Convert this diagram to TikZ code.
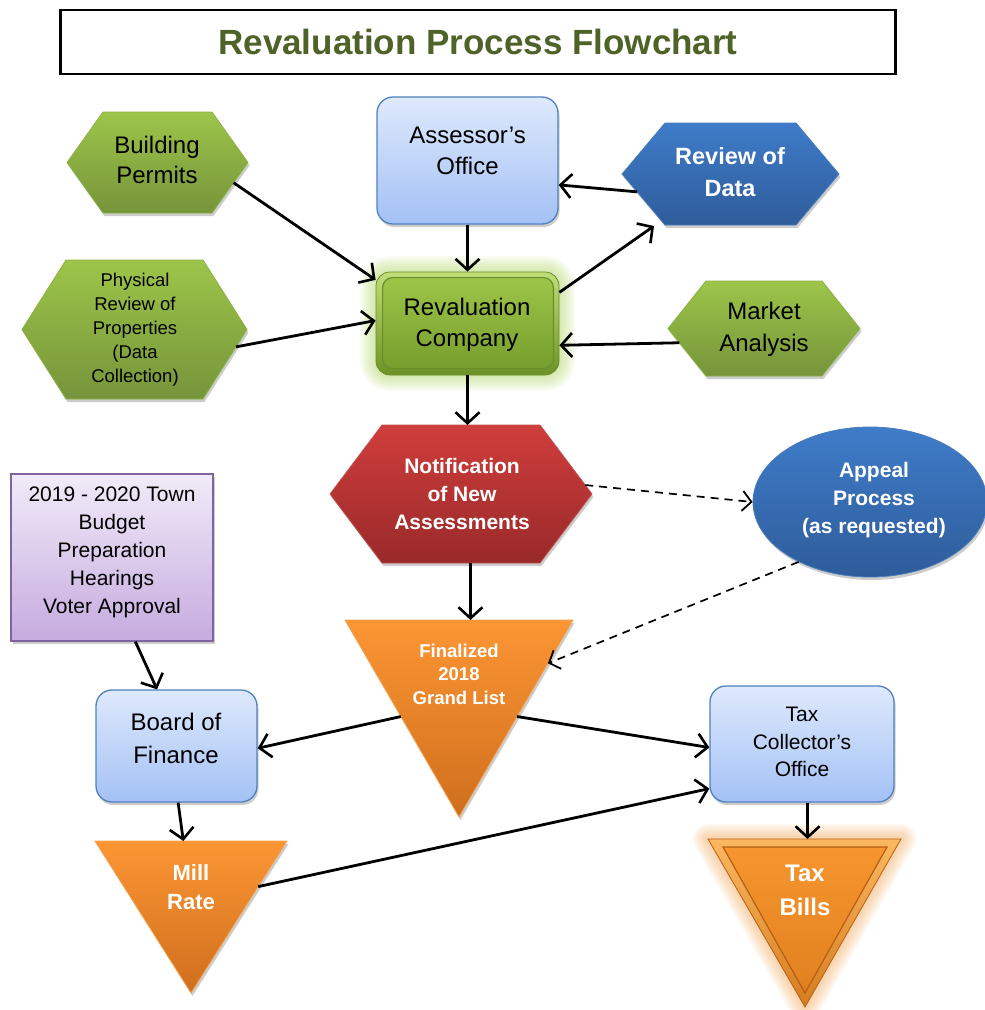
\documentclass[tikz,border=0pt]{standalone}
\usepackage{fontspec}
\setmainfont{Liberation Sans}
\usetikzlibrary{arrows.meta,calc,shadows,shapes.geometric}

\definecolor{titlegreen}{HTML}{4F6228}
\definecolor{hexgT}{HTML}{9DC54A}
\definecolor{hexgB}{HTML}{76943A}
\definecolor{hexgE}{HTML}{8CB143}
\definecolor{blueT}{HTML}{DEE9FC}
\definecolor{blueB}{HTML}{A3C1F5}
\definecolor{blueE}{HTML}{4F81BD}
\definecolor{dblueT}{HTML}{3F7CC9}
\definecolor{dblueB}{HTML}{2E5C9A}
\definecolor{dblueE}{HTML}{4A7EBB}
\definecolor{redT}{HTML}{CF3E3C}
\definecolor{redB}{HTML}{99292A}
\definecolor{redE}{HTML}{C0504D}
\definecolor{orT}{HTML}{FC9634}
\definecolor{orB}{HTML}{CF6E1D}
\definecolor{orE}{HTML}{F7A24F}
\definecolor{purT}{HTML}{F1EBF8}
\definecolor{purB}{HTML}{C6ABDF}
\definecolor{purE}{HTML}{8064A2}
\definecolor{glowgreen}{HTML}{A5CE50}
\definecolor{gloworange}{HTML}{F0A04A}
\definecolor{rcOutT}{HTML}{C0DE78}
\definecolor{rcOutB}{HTML}{6C9226}
\definecolor{rcInT}{HTML}{9DC548}
\definecolor{rcInB}{HTML}{779E2D}
\definecolor{rcEdge}{HTML}{6A8E2A}
\definecolor{tbOutT}{HTML}{FBB861}
\definecolor{tbOutB}{HTML}{D57C1E}
\definecolor{tbInT}{HTML}{F7962F}
\definecolor{tbInB}{HTML}{E0801F}
\definecolor{tbEdge}{HTML}{B65E14}

\newcommand{\hexshape}[7]{%
  \coordinate (#1-l) at (#3,{(#5+#6)/2});
  \coordinate (#1-tl) at ({#3+#7},#5);
  \coordinate (#1-tr) at ({#4-#7},#5);
  \coordinate (#1-r) at (#4,{(#5+#6)/2});
  \coordinate (#1-br) at ({#4-#7},#6);
  \coordinate (#1-bl) at ({#3+#7},#6);
  \path[#2] (#1-l) -- (#1-tl) -- (#1-tr) -- (#1-r) -- (#1-br) -- (#1-bl) -- cycle;
}
\newcommand{\trishape}[6]{%
  \coordinate (#1-tl) at (#3,#5);
  \coordinate (#1-tr) at (#4,#5);
  \coordinate (#1-b) at ({(#3+#4)/2},#6);
  \path[#2] (#1-tl) -- (#1-tr) -- (#1-b) -- cycle;
}

\tikzset{
  arr/.style={line width=2.8pt, -{Straight Barb[length=11pt,width=24pt,line width=2.6pt]}},
  darr/.style={line width=1.7pt, dash pattern=on 8pt off 6pt, -{Straight Barb[length=9pt,width=20pt,line width=1.8pt]}},
  shad/.style={drop shadow={shadow xshift=1.5pt,shadow yshift=-3pt,opacity=0.2,fill=black}},
  greenhex/.style={top color=hexgT, bottom color=hexgB, draw=hexgE, line width=0.8pt, shad},
  bluehex/.style={top color=dblueT, bottom color=dblueB, draw=dblueE, line width=0.8pt, shad},
  redhex/.style={top color=redT, bottom color=redB, draw=redE, line width=0.8pt, shad},
  orangetri/.style={top color=orT, bottom color=orB, draw=orE, line width=0.8pt, shad},
  bluebox/.style={rectangle, rounded corners=16pt, top color=blueT, bottom color=blueB, draw=blueE, line width=1.3pt, shad},
  purplebox/.style={rectangle, top color=purT, bottom color=purB, draw=purE, line width=1.3pt, shad},
  tx/.style={align=center, inner sep=0pt, text=black},
  wtx/.style={align=center, inner sep=0pt, text=white, font=\bfseries},
}

\begin{document}
\begin{tikzpicture}[x=1pt,y=-1pt]
\useasboundingbox (0,0) rectangle (985,1010);

% Title
\node[draw, line width=2.6pt, minimum width=835pt, minimum height=64pt, inner sep=0pt] (title) at (478,42)
  {\fontsize{35}{40}\selectfont\bfseries\color{titlegreen}Revaluation Process Flowchart};

% Hexagons
\hexshape{bp}{greenhex}{67}{248}{112}{213}{36}
\hexshape{pr}{greenhex}{22}{247}{260}{399}{44}
\hexshape{rd}{bluehex}{622}{839}{123}{225}{43}
\hexshape{ma}{greenhex}{668}{860}{281}{376}{38}
\hexshape{nt}{redhex}{330}{592}{425}{563}{52}

% Boxes
\node[bluebox, minimum width=181pt, minimum height=127pt] (ao) at (467.5,160.5) {};
\node[bluebox, minimum width=161pt, minimum height=112pt] (bf) at (176.5,746) {};
\node[bluebox, minimum width=184pt, minimum height=116pt] (tc) at (802,744) {};
\node[purplebox, minimum width=202pt, minimum height=167pt] (bu) at (112,557.5) {};

% Revaluation company with glow
\coordinate (rcNW) at (376,272);
\coordinate (rcSE) at (559,375);
\foreach \w in {32,28,24,20,16,12,8,4}
  \draw[line width=\w pt, glowgreen, opacity=0.07, rounded corners=14pt] (rcNW) rectangle (rcSE);
\node[rectangle, rounded corners=14pt, minimum width=183pt, minimum height=103pt,
      top color=rcOutT, bottom color=rcOutB, draw=rcEdge, line width=0.8pt] (rc) at (467.5,323.5) {};
\path[rounded corners=10pt, top color=rcInT, bottom color=rcInB, draw=rcEdge, line width=1.2pt]
  ($(rc.north west)+(7,6)$) rectangle ($(rc.south east)+(-6,-7)$);

% Appeal ellipse
\node[ellipse, minimum width=234pt, minimum height=150pt, top color=dblueT, bottom color=dblueB,
      draw=dblueE, line width=0.8pt, shad] (ap) at (870,502) {};

% Triangles
\trishape{fg}{orangetri}{345}{573}{620}{817}
\trishape{mr}{orangetri}{95}{287}{841}{993}

% Tax bills with glow and bevel
\coordinate (tb-tl) at (708,839);
\coordinate (tb-tr) at (901,839);
\coordinate (tb-b) at (805,1007);
\foreach \w in {30,26,22,18,14,10,6}
  \draw[line width=\w pt, gloworange, opacity=0.08, line join=round] (tb-tl) -- (tb-tr) -- (tb-b) -- cycle;
\path[top color=tbOutT, bottom color=tbOutB, draw=tbEdge, line width=0.8pt, line join=miter]
  (tb-tl) -- (tb-tr) -- (tb-b) -- cycle;
\path[top color=tbInT, bottom color=tbInB, draw=tbEdge, line width=1.2pt]
  ($(tb-tl)+(15,8)$) -- ($(tb-tr)+(-14,8)$) -- ($(tb-b)+(0,-14)$) -- cycle;

% Texts
\node[tx, font=\fontsize{24}{30}\selectfont] (bpT) at (157,160) {Building\\Permits};
\node[tx, font=\fontsize{18.5}{24}\selectfont] (prT) at (135,330) {Physical\\Review of\\Properties\\(Data\\Collection)};
\node[tx, font=\fontsize{24}{31}\selectfont] (aoT) at (467.5,151) {Assessor’s\\Office};
\node[wtx, font=\fontsize{23.5}{32}\selectfont\bfseries] (rdT) at (730,172) {Review of\\Data};
\node[tx, font=\fontsize{24}{31}\selectfont] (rcT) at (467,325) {Revaluation\\Company};
\node[tx, font=\fontsize{24}{32}\selectfont] (maT) at (764,329) {Market\\Analysis};
\node[wtx, font=\fontsize{21}{28}\selectfont\bfseries] (ntT) at (462,494) {Notification\\of New\\Assessments};
\node[wtx, font=\fontsize{21}{28}\selectfont\bfseries] (apT) at (874,500) {Appeal\\Process\\(as requested)};
\node[tx, font=\fontsize{21}{28}\selectfont] (buT) at (112,552) {2019 - 2020 Town\\Budget\\Preparation\\Hearings\\Voter Approval};
\node[wtx, font=\fontsize{18.5}{23.5}\selectfont\bfseries] (fgT) at (459,674) {Finalized\\2018\\Grand List};
\node[tx, font=\fontsize{24}{33}\selectfont] (bfT) at (176,738) {Board of\\Finance};
\node[tx, font=\fontsize{21}{27.5}\selectfont] (tcT) at (802,742) {Tax\\Collector’s\\Office};
\node[wtx, font=\fontsize{22}{29}\selectfont\bfseries] (mrT) at (191,887) {Mill\\Rate};
\node[wtx, font=\fontsize{24}{34}\selectfont\bfseries] (tbT) at (805,890) {Tax\\Bills};

% Connectors
\draw[arr] ($(bp-r)!0.4!(bp-br)$) -- ($(rc.north west)!0.08!(rc.south west)$);
\draw[arr] ($(pr-r)!0.25!(pr-br)$) -- ($(rc.west)+(0,-3)$);
\draw[arr] (ao.south) -- (rc.north);
\draw[arr] ($(rc.north east)!0.2!(rc.south east)$) -- ($(rd-bl)+(-11,1)$);
\draw[arr] ($(rd-l)!0.35!(rd-bl)$) -- ($(ao.north east)!0.69!(ao.south east)$);
\draw[arr] ($(ma-l)!0.3!(ma-bl)$) -- ($(rc.north east)!0.71!(rc.south east)$);
\draw[arr] (rc.south) -- (rc.south |- nt-tl);
\coordinate (nt-s) at ($(nt-bl)!0.56!(nt-br)$);
\draw[arr] (nt-s) -- (nt-s |- fg-tl);
\draw[darr] ($(nt-tr)!0.87!(nt-r)$) -- (ap.west);
\draw[darr] (ap.220) -- ($(fg-tr)!0.22!(fg-b)$);
\draw[arr] ($(bu.south west)!0.615!(bu.south east)$) -- ($(bf.north west)!0.38!(bf.north east)$);
\draw[arr] ($(fg-tl)!0.49!(fg-b)$) -- ($(bf.north east)!0.52!(bf.south east)$);
\draw[arr] ($(fg-tr)!0.49!(fg-b)$) -- ($(tc.north west)!0.53!(tc.south west)$);
\draw[arr] ($(bf.south west)!0.51!(bf.south east)$) -- ($(mr-tl)!0.46!(mr-tr)$);
\draw[arr] ($(mr-tr)!0.3!(mr-b)$) -- ($(tc.north west)!0.88!(tc.south west)$);
\coordinate (tc-s) at ($(tc.south west)!0.53!(tc.south east)$);
\draw[arr] (tc-s) -- (tc-s |- tb-tl);
\end{tikzpicture}
\end{document}
